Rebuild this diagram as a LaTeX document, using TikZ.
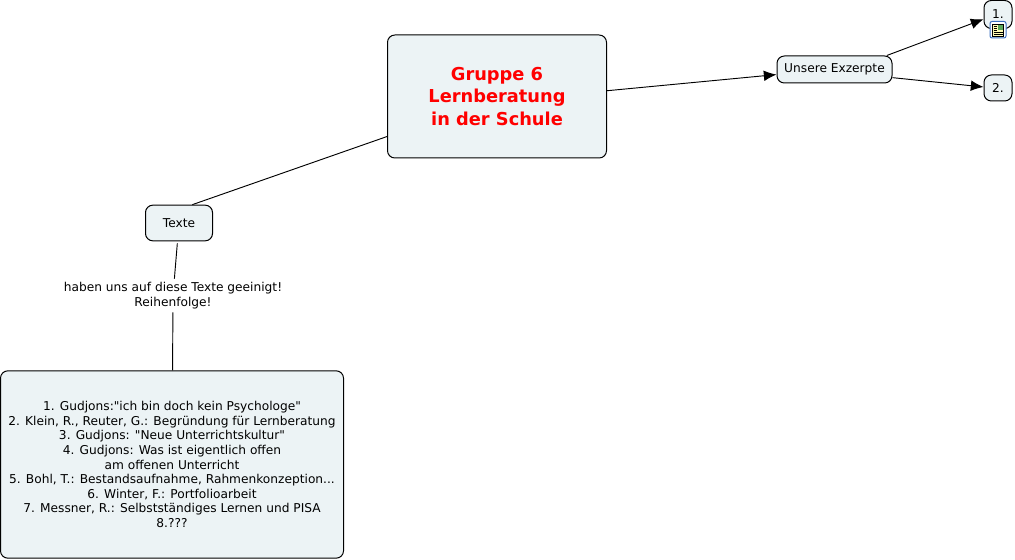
\documentclass[tikz,border=0pt]{standalone}
\usepackage{fontspec}
\setmainfont[Ligatures=TeXOff]{DejaVu Sans}
\usetikzlibrary{arrows.meta}
\definecolor{boxfill}{HTML}{ECF3F5}
\definecolor{iconblue}{HTML}{3A6FC0}
\tikzset{
    box/.style = {shape = rectangle, draw, fill = boxfill, line width = 0.75pt, rounded corners = 5.5pt, inner sep = 0pt, font = \fontsize{9.15pt}{10.9pt}\selectfont, align = center},
    link/.style = {draw, line width = 0.7pt},
    arrow/.style = {link, -{Latex[length = 9.5pt, width = 8pt]}}
}

\begin{document}
\begin{tikzpicture}[x = 0.75pt, y = -0.75pt]
    \useasboundingbox (0,0) rectangle (1015,560);
    \node [box, minimum width = 164.25pt, minimum height = 92.25pt, font = \fontsize{13.35pt}{16.6pt}\selectfont\bfseries, text = red] (gruppe) at (497,96.5) {Gruppe 6\\Lernberatung\\in der Schule};
    \node [box, minimum width = 86.25pt, minimum height = 20.25pt] (excerpte) at (834.5,69.5) {Unsere Exzerpte};
    \node [box, minimum width = 21pt, minimum height = 21pt] (eins) at (998,14.5) {1.};
    \node [box, minimum width = 21pt, minimum height = 19.5pt] (zwei) at (998,88) {2.};
    \node [box, minimum width = 50.25pt, minimum height = 26.75pt] (texte) at (179,223) {Texte};
    \node [box, minimum width = 257.25pt, minimum height = 140.5pt] (liste) at (172,464.5) {1. Gudjons:"ich bin doch kein Psychologe"\\2. Klein, R., Reuter, G.: Begründung für Lernberatung\\3. Gudjons: "Neue Unterrichtskultur"\\4. Gudjons: Was ist eigentlich offen\\am offenen Unterricht\\5. Bohl, T.: Bestandsaufnahme, Rahmenkonzeption...\\6. Winter, F.: Portfolioarbeit\\7. Messner, R.: Selbstständiges Lernen und PISA\\8.???};
    \node [font = \fontsize{9.15pt}{10.9pt}\selectfont, align = center, inner sep = 0pt, minimum height = 24.75pt] (label) at (173,295.5) {haben uns auf diese Texte geeinigt!\\Reihenfolge!};

    \draw [link] (gruppe.200) -- (texte.54);
    \draw [link, shorten <= 1.5pt] (texte) -- (label);
    \draw [link] (label) -- (liste);
    \draw [arrow] (gruppe.3) -- (excerpte.185.5);
    \draw [arrow] (excerpte.15) -- (eins.198);
    \draw [arrow] (excerpte.-8.4) -- (zwei.176);

    % symbol below the node 1.
    \draw [rounded corners = 1.5pt, draw = iconblue, fill = white, line width = 0.75pt] (990,21.5) rectangle (1006,38);
    \fill [yellow!30] (992.5,24) rectangle (1003.5,36);
    \draw [black, line width = 0.4pt] (992.5,24) rectangle (1003.5,36);
    \fill [gray!70!green] (998,25.5) rectangle (1002.5,30);
    \foreach \y in {26,28,30,32,34}
        \draw [black, line width = 0.5pt] (993.5,\y) -- (997,\y);
    \foreach \y in {32,34}
        \draw [black, line width = 0.5pt] (997,\y) -- (1002.5,\y);
\end{tikzpicture}
\end{document}
